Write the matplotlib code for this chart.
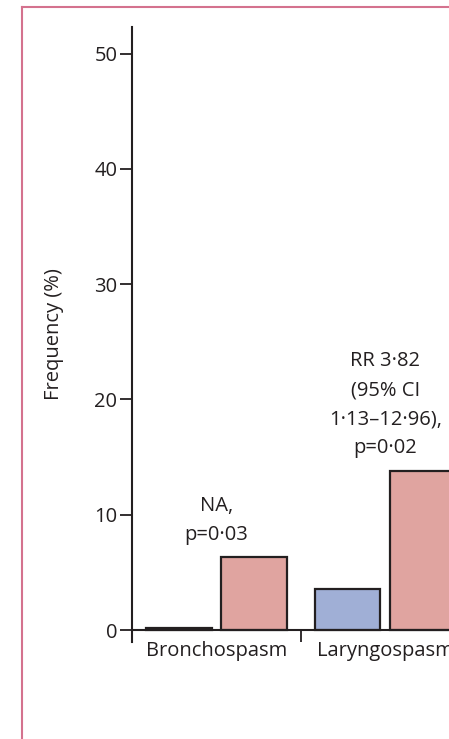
import matplotlib.pyplot as plt
from matplotlib.lines import Line2D

plt.rcParams["font.family"] = ["Open Sans", "DejaVu Sans"]

# data
categories = ["Bronchospasm", "Laryngospasm"]
group_a = [0.15, 3.6]     # blue bars
group_b = [6.3, 13.8]     # pink bars
annotations = ["NA,\np=0·03", "RR 3·82\n(95% CI\n1·13–12·96),\np=0·02"]
yticks = [0, 10, 20, 30, 40, 50]

blue = "#a0afd6"
pink = "#e0a4a0"
ink = "#231f20"
fs = 14.5

fig = plt.figure(figsize=(4.49, 7.39), dpi=100)

# pink panel frame (only top and left are visible in the crop)
frame_c = "#d4728e"
fig.add_artist(Line2D([22 / 449, 22 / 449], [0, 732 / 739], color=frame_c, lw=1.5))
fig.add_artist(Line2D([22 / 449, 1.0], [732 / 739, 732 / 739], color=frame_c, lw=1.5))

ax = fig.add_axes([132 / 449, 97 / 739, 317 / 449, 615 / 739])

x = list(range(len(categories)))
off = 0.222
w = 0.385
ax.bar([i + 0.5 - off for i in x], group_a, width=w, color=blue,
       edgecolor=ink, linewidth=1.6)
ax.bar([i + 0.5 + off for i in x], group_b, width=w, color=pink,
       edgecolor=ink, linewidth=1.6)

for i, txt in enumerate(annotations):
    top = max(group_a[i], group_b[i])
    ax.text(i + 0.5, top + 1.1, txt, ha="center", va="bottom",
            fontsize=fs, color=ink, linespacing=1.6)

ax.set_xlim(0, 1.876)
ax.set_ylim(-1.04, 52.3)
ax.set_yticks(yticks)
ax.tick_params(axis="y", length=8.6, width=1.3, labelsize=fs,
               labelcolor=ink, color=ink, pad=2)

ax.set_xticks([1])
ax.set_xticklabels([""])
ax.set_xticks([i + 0.5 for i in x], minor=True)
ax.set_xticklabels(categories, minor=True)
ax.tick_params(axis="x", which="major", direction="out", length=8.6,
               width=1.3, color=ink)
ax.tick_params(axis="x", which="minor", length=0, pad=8, labelsize=fs,
               labelcolor=ink)

for s in ["top", "right"]:
    ax.spines[s].set_visible(False)
ax.spines["left"].set_linewidth(1.5)
ax.spines["left"].set_color(ink)
ax.spines["bottom"].set_linewidth(1.5)
ax.spines["bottom"].set_color(ink)
ax.spines["bottom"].set_position(("data", 0))

ax.set_ylabel("Frequency (%)", fontsize=fs, color=ink, labelpad=22)

fig.savefig("out.png", dpi=100)
